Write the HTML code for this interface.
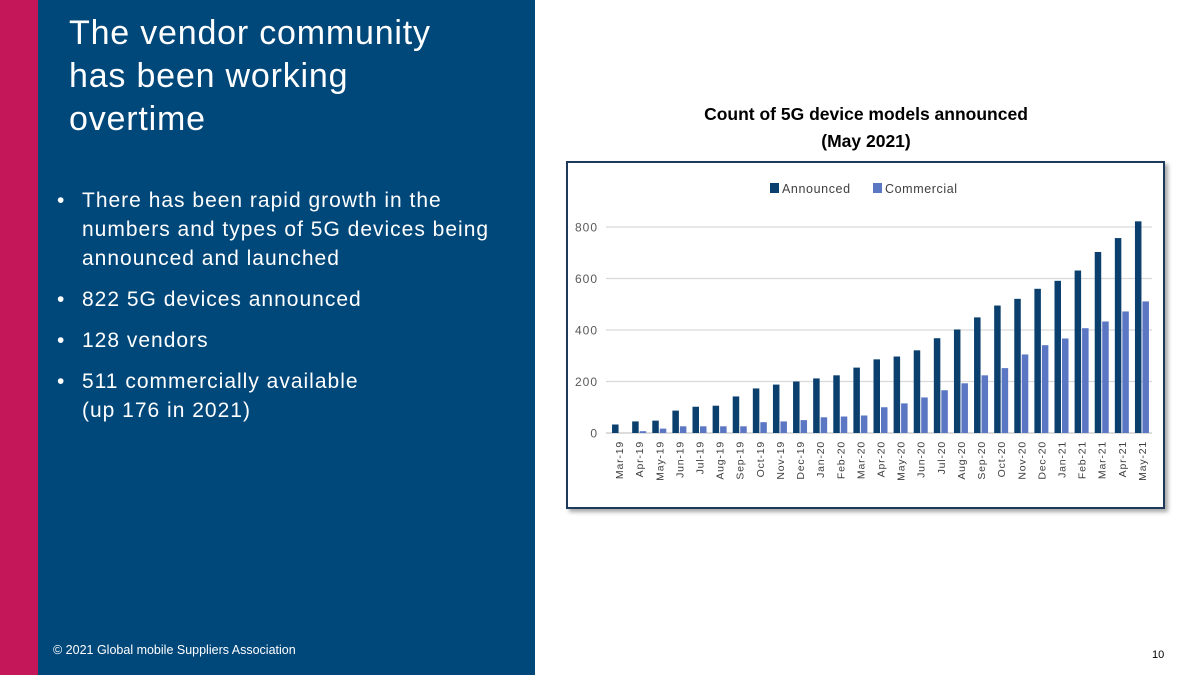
<!DOCTYPE html>
<html><head><meta charset="utf-8"><style>
body{margin:0;width:1200px;height:675px;position:relative;overflow:hidden;background:#fff;font-family:"Liberation Sans",sans-serif}
#pink{position:absolute;left:0;top:0;width:38px;height:675px;background:#c3175a}
#blue{position:absolute;left:38px;top:0;width:497px;height:675px;background:#00477a}
#title{position:absolute;left:69px;top:12px;color:#fff;font-size:34px;line-height:43px;letter-spacing:0.8px;font-family:"Liberation Sans",sans-serif;font-weight:normal}
ul{position:absolute;left:57px;top:186px;margin:0;padding:0;list-style:none;color:#fff;font-size:21px;letter-spacing:1px;line-height:29px;white-space:nowrap;font-family:"Liberation Sans",sans-serif}
li{position:relative;padding-left:25px;margin-bottom:12px}
li:before{content:"•";position:absolute;left:0}
#foot{position:absolute;left:53px;top:643px;color:#fff;font-size:12.5px}
#pg{position:absolute;left:1152px;top:649px;font-size:11px;color:#000}
#ctitle{position:absolute;left:566px;top:101px;width:600px;text-align:center;font-weight:bold;font-size:17.5px;line-height:27px;color:#000}
#box{position:absolute;left:566px;top:161px;width:599px;height:348px;border:2.5px solid #1d3a5a;box-sizing:border-box;box-shadow:3px 3px 4px rgba(0,0,0,0.35)}
svg{position:absolute;left:0;top:0}
</style></head><body>
<div id="pink"></div>
<div id="blue"></div>
<div id="title">The vendor community<br>has been working<br>overtime</div>
<ul>
<li>There has been rapid growth in the<br>numbers and types of 5G devices being<br>announced and launched</li>
<li>822 5G devices announced</li>
<li>128 vendors</li>
<li>511 commercially available<br>(up 176 in 2021)</li>
</ul>
<div id="foot">© 2021 Global mobile Suppliers Association</div>
<div id="pg">10</div>
<div id="ctitle">Count of 5G device models announced<br>(May 2021)</div>
<div id="box"></div>
<svg id="chart" width="1200" height="675"></svg>
<script>
const categories=["Mar-19","Apr-19","May-19","Jun-19","Jul-19","Aug-19","Sep-19","Oct-19","Nov-19","Dec-19","Jan-20","Feb-20","Mar-20","Apr-20","May-20","Jun-20","Jul-20","Aug-20","Sep-20","Oct-20","Nov-20","Dec-20","Jan-21","Feb-21","Mar-21","Apr-21","May-21"];
const announced=[33,45,48,87,102,106,142,173,188,200,212,224,254,286,297,321,368,402,449,495,521,560,591,631,703,757,822];
const commercial=[0,7,17,26,26,26,26,42,45,50,61,64,68,100,115,138,166,193,224,252,305,341,367,407,433,472,511];
const yTicks=[0,200,400,600,800];
const NS="http://www.w3.org/2000/svg";
const svg=document.getElementById('chart');
const x0=609,x1=1152,y0=433,yScale=(433-227)/800;
const band=(x1-x0)/categories.length;
const y=v=>y0-v*yScale;
function mk(t,a){const e=document.createElementNS(NS,t);for(const k in a)e.setAttribute(k,a[k]);svg.appendChild(e);return e;}
yTicks.forEach(t=>{
  const l=mk('line',{x1:x0-3,x2:x1,y1:y(t),y2:y(t),stroke:t===0?'#c8c8c8':'#d9d9d9','stroke-width':1.3});
  
  
  const tx=mk('text',{x:598,y:y(t)+4.5,'text-anchor':'end','font-size':12,fill:'#595959','font-family':'Liberation Sans, sans-serif','letter-spacing':'1'});
  tx.textContent=t;
  
  
});
const bw=6.5;
categories.forEach((c,i)=>{
  const cx=x0+band*(i+0.5);
  const a=mk('rect',{x:cx-bw-0.5,y:y(announced[i]),width:bw,height:announced[i]*yScale,fill:'#0a3f6e'});
  
  
  const b=mk('rect',{x:cx+0.5,y:y(commercial[i]),width:bw,height:commercial[i]*yScale,fill:'#5b76c2'});
  
  
  const t=mk('text',{x:0,y:0,'text-anchor':'end','font-size':10.5,fill:'#404040','font-family':'Liberation Sans, sans-serif','letter-spacing':'0.8',transform:`translate(${cx+4},${y0+8}) rotate(-90)`});
  t.textContent=c;
  
  
});
const legend=[["Announced","#0a3f6e",770],["Commercial","#5b76c2",873]];
legend.forEach(([n,col,lx])=>{
  const r=mk('rect',{x:lx,y:183,width:9,height:10,fill:col});
  
  
  const t=mk('text',{x:lx+12,y:193,'font-size':12.5,fill:'#404040','font-family':'Liberation Sans, sans-serif','letter-spacing':'0.6'});
  t.textContent=n;
  
  
});
</script>
</body></html>
